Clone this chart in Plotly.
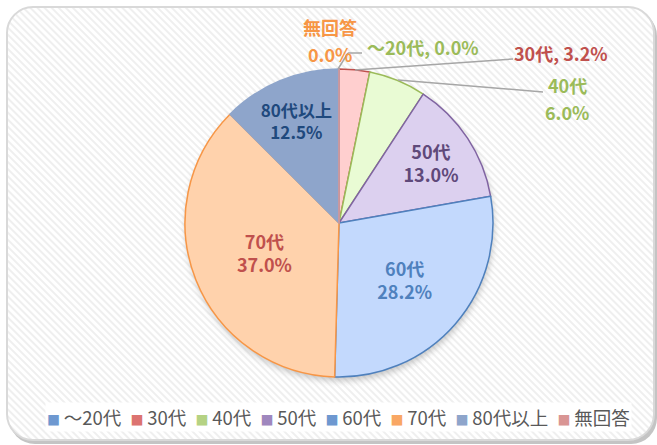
import base64
import plotly.graph_objects as go

# ---- data ----
categories = ["～20代", "30代", "40代", "50代", "60代", "70代", "80代以上", "無回答"]
values = [0.0, 3.2, 6.0, 13.0, 28.2, 37.0, 12.5, 0.0]
pct_labels = ["0.0%", "3.2%", "6.0%", "13.0%", "28.2%", "37.0%", "12.5%", "0.0%"]

# ---- styles ----
fill_colors = ["#C9DCFB", "#FFCFCF", "#E9FBD4", "#DCD0EF", "#C3D9FD", "#FFD2AC", "#8EA5CB", "#D99594"]
line_colors = ["#4F81BD", "#C0504D", "#9BBB59", "#8064A2", "#4F81BD", "#F79646", "#8EA5CB", "#D99594"]
legend_colors = ["#6E98D0", "#DC7370", "#B5D283", "#9F87BE", "#6E98D0", "#F9A764", "#8EA5CB", "#D99594"]
text_colors = ["#9BBB59", "#C0504D", "#9BBB59", "#5F497A", "#4F81BD", "#C0504D", "#1F497D", "#F79646"]
inside = [False, False, False, True, True, True, True, False]

FONT = "Noto Sans CJK JP"
W, H = 657, 445
CX, CY, R = 339, 223, 154

texts = [f"{c}<br>{p}" for c, p in zip(categories, pct_labels)]
positions = ["inside" if i else "none" for i in inside]

fig = go.Figure()
fig.add_trace(go.Pie(
    labels=categories,
    values=values,
    text=texts,
    textinfo="text",
    textposition=positions,
    insidetextorientation="horizontal",
    sort=False,
    direction="clockwise",
    rotation=0,
    marker=dict(colors=fill_colors, line=dict(color=line_colors, width=1.5)),
    textfont=dict(family=FONT, size=18, color=text_colors, weight="bold"),
    domain=dict(x=[(CX - R) / W, (CX + R) / W], y=[1 - (CY + R) / H, 1 - (CY - R) / H]),
    showlegend=False,
    hoverinfo="label+text",
))

# background frame with diagonal stripes and soft pie shadow
svg = f'''<svg xmlns="http://www.w3.org/2000/svg" width="{W}" height="{H}">
<defs><pattern id="p" width="5" height="5" patternUnits="userSpaceOnUse" patternTransform="rotate(-45)">
<rect width="5" height="5" fill="#ffffff"/><rect width="2" height="5" fill="#efefef"/></pattern>
<filter id="b" x="-20%" y="-20%" width="140%" height="140%"><feGaussianBlur stdDeviation="3"/></filter></defs>
<rect x="9" y="10" width="648" height="434" rx="26" fill="#c4c4c4"/>
<rect x="7" y="7" width="647" height="433" rx="26" fill="url(#p)" stroke="#d9d9d9" stroke-width="2"/>
<circle cx="{CX + 1}" cy="{CY + 4}" r="{R}" fill="#9a9a9a" opacity="0.55" filter="url(#b)"/>
</svg>'''
src = "data:image/svg+xml;base64," + base64.b64encode(svg.encode()).decode()
fig.add_layout_image(dict(source=src, xref="paper", yref="paper", x=0, y=1, sizex=1, sizey=1,
                          sizing="stretch", xanchor="left", yanchor="top", layer="below"))

def px(x):
    return x / W

def py(y):
    return 1 - y / H

# outside labels with leader lines
annots = [
    dict(x=px(330), y=py(27), text=categories[7], font=dict(color=text_colors[7])),
    dict(x=px(330), y=py(54), text=pct_labels[7], font=dict(color=text_colors[7])),
    dict(x=px(423), y=py(47), text=f"{categories[0]}, {pct_labels[0]}", font=dict(color=text_colors[0])),
    dict(x=px(561), y=py(53), text=f"{categories[1]}, {pct_labels[1]}", font=dict(color=text_colors[1])),
    dict(x=px(567), y=py(85), text=categories[2], font=dict(color=text_colors[2])),
    dict(x=px(567), y=py(112), text=pct_labels[2], font=dict(color=text_colors[2])),
]
for a in annots:
    a.update(xref="paper", yref="paper", showarrow=False, xanchor="center", yanchor="middle")
    a["font"].update(family=FONT, size=18, weight="bold")
    fig.add_annotation(**a)

lead = dict(color="#A6A6A6", width=1.5)
leaders = [
    [(348, 53), (338, 69)],
    [(362, 53), (348, 53)],
    [(513, 59), (355, 70)],
    [(543, 92), (398, 80)],
]
for seg in leaders:
    path = "M " + " L ".join(f"{px(x)},{py(y)}" for x, y in seg)
    fig.add_shape(type="path", path=path, xref="paper", yref="paper", line=lead)

# legend built from categories
items = [f'<span style="color:{lc};font-size:13px">■</span>\u2009{c}'
         for lc, c in zip(legend_colors, categories)]
fig.add_annotation(x=px(338), y=py(417), xref="paper", yref="paper", showarrow=False,
                   text="\u2002".join(items), font=dict(family=FONT, size=18.5, color="#595959"),
                   bgcolor="#ffffff", xanchor="center", yanchor="middle")

fig.update_layout(
    width=W, height=H,
    margin=dict(l=0, r=0, t=0, b=0),
    paper_bgcolor="#ffffff",
    plot_bgcolor="#ffffff",
    showlegend=False,
)

fig.write_html("out.html", config={"displayModeBar": False},
               post_script="document.body.style.margin='0';")
